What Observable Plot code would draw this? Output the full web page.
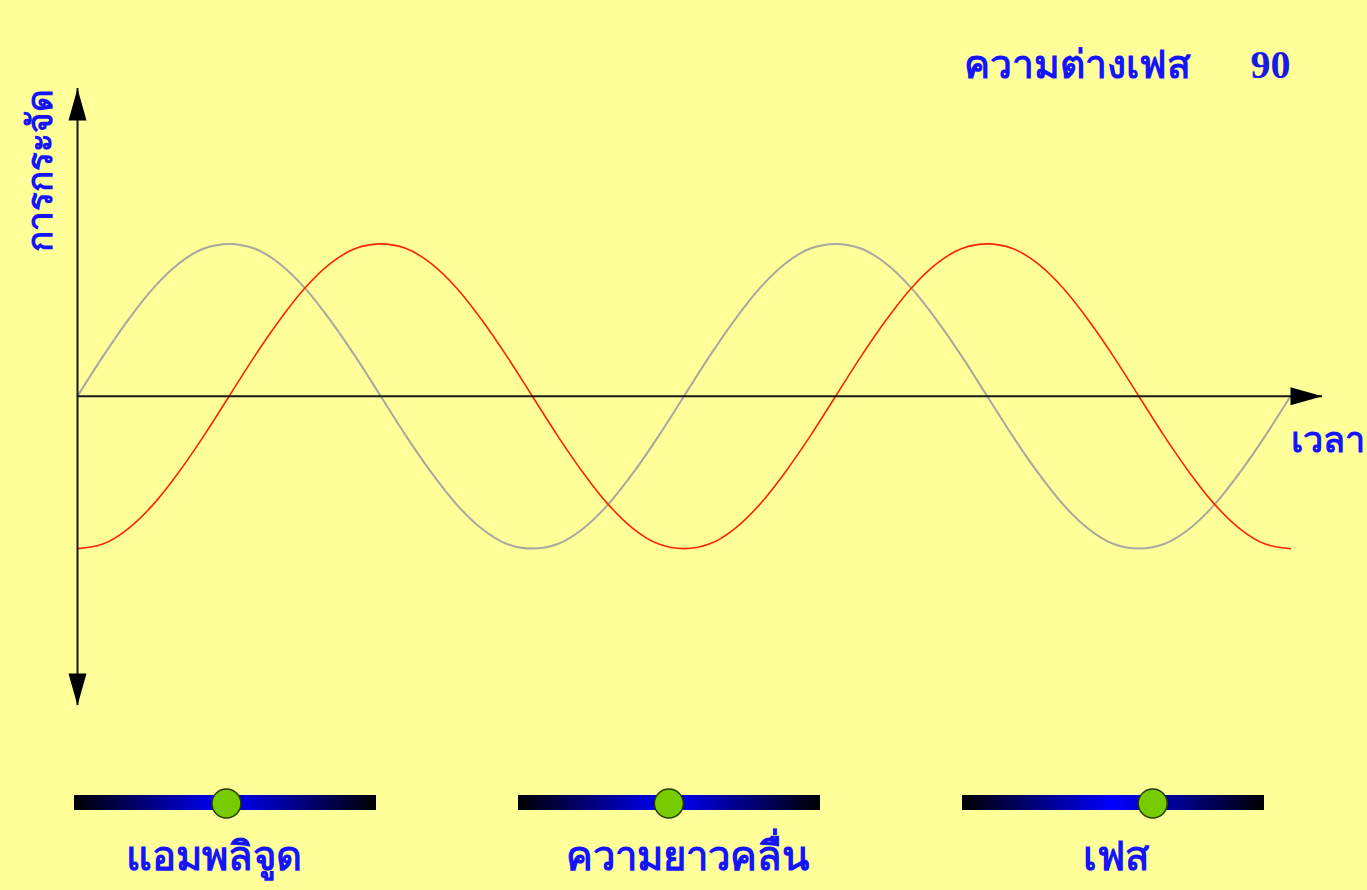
<!DOCTYPE html>
<html>
<head>
<meta charset="utf-8">
<script src="https://cdn.jsdelivr.net/npm/d3@7"></script>
<script src="https://cdn.jsdelivr.net/npm/@observablehq/plot@0.6"></script>
<style>
  html, body { margin: 0; padding: 0; background: #ffff99; }
  #chart svg, #sliders svg { display: block; }
</style>
</head>
<body>
<div id="chart"></div>
<div id="sliders"></div>
<script>
// ---- data ----
const timeDeg   = [0, 15, 30, 45, 60, 75, 90, 105, 120, 135, 150, 165, 180, 195, 210, 225, 240, 255, 270, 285, 300, 315, 330, 345,
                   360, 375, 390, 405, 420, 435, 450, 465, 480, 495, 510, 525, 540, 555, 570, 585, 600, 615, 630, 645, 660, 675, 690, 705, 720];
const grayWave  = [0, 0.26, 0.5, 0.71, 0.87, 0.97, 1, 0.97, 0.87, 0.71, 0.5, 0.26, 0, -0.26, -0.5, -0.71, -0.87, -0.97, -1, -0.97, -0.87, -0.71, -0.5, -0.26,
                   0, 0.26, 0.5, 0.71, 0.87, 0.97, 1, 0.97, 0.87, 0.71, 0.5, 0.26, 0, -0.26, -0.5, -0.71, -0.87, -0.97, -1, -0.97, -0.87, -0.71, -0.5, -0.26, 0];
const redWave   = [-1, -0.97, -0.87, -0.71, -0.5, -0.26, 0, 0.26, 0.5, 0.71, 0.87, 0.97, 1, 0.97, 0.87, 0.71, 0.5, 0.26, 0, -0.26, -0.5, -0.71, -0.87, -0.97,
                   -1, -0.97, -0.87, -0.71, -0.5, -0.26, 0, 0.26, 0.5, 0.71, 0.87, 0.97, 1, 0.97, 0.87, 0.71, 0.5, 0.26, 0, -0.26, -0.5, -0.71, -0.87, -0.97, -1];
const xDomain   = [0, 739];
const yDomain   = [-2.03, 2.02];
const phaseDiffLabel = ["ความต่างเฟส"];
const phaseDiff = [90];
const yLabel    = ["การกระจัด"];
const xLabel    = ["เวลา"];
const sliderNames  = ["แอมพลิจูด", "ความยาวคลื่น", "เฟส"];
const sliderValues = [0.503, 0.498, 0.63];

const blue = "#1414ff";
const thaiFont = "serif";

const grayData = timeDeg.map((t, i) => ({t, v: grayWave[i]}));
const redData  = timeDeg.map((t, i) => ({t, v: redWave[i]}));

const arrowHead = {
  draw(ctx) { ctx.moveTo(0, 0); ctx.lineTo(9, 32); ctx.lineTo(-9, 32); ctx.closePath(); }
};

const chart = Plot.plot({
  width: 1367,
  height: 760,
  marginTop: 88,
  marginBottom: 55,
  marginLeft: 77,
  marginRight: 45,
  style: {background: "#ffff99", fontFamily: thaiFont},
  x: {domain: xDomain, axis: null},
  y: {domain: yDomain, axis: null},
  marks: [
    Plot.line(grayData, {x: "t", y: "v", curve: "monotone-x", stroke: "#a8a8a0", strokeWidth: 2}),
    Plot.line(redData, {x: "t", y: "v", curve: "monotone-x", stroke: "#ff2200", strokeWidth: 1.6}),
    Plot.ruleY([0], {x1: xDomain[0], x2: xDomain[1], stroke: "#1a1a1a", strokeWidth: 2}),
    Plot.ruleX([0], {y1: yDomain[0], y2: yDomain[1], stroke: "#1a1a1a", strokeWidth: 2}),
    Plot.dot([{x: xDomain[1], y: 0, r: 90}, {x: 0, y: yDomain[1], r: 0}, {x: 0, y: yDomain[0], r: 180}],
      {x: "x", y: "y", rotate: "r", symbol: arrowHead, fill: "#000", stroke: "none"}),
    Plot.text(yLabel, {x: 0, y: yDomain[1], text: d => d, rotate: -90, textAnchor: "end", dx: -37,
      fill: blue, fontSize: 35, fontWeight: "bold"}),
    Plot.text(xLabel, {x: xDomain[1], y: 0, text: d => d, textAnchor: "start", dx: -32, dy: 44,
      fill: blue, fontSize: 36, fontWeight: "bold"}),
    Plot.text(phaseDiffLabel, {frameAnchor: "top-right", text: d => d, textAnchor: "end", dx: -132, dy: -38,
      fill: blue, fontSize: 39, fontWeight: "bold"}),
    Plot.text(phaseDiff, {frameAnchor: "top-right", text: d => String(d), textAnchor: "end", dx: -32, dy: -39,
      fill: "#1a1ae6", fontSize: 40, fontWeight: "bold", fontFamily: "Liberation Serif"})
  ]
});
document.getElementById("chart").append(chart);

const sliderData = sliderNames.map((name, i) => ({name, value: sliderValues[i]}));
const labelText = (name, dx) => Plot.text(sliderData.filter(d => d.name === name),
  {fx: "name", frameAnchor: "bottom", text: "name", dy: 52, dx, fill: blue, fontSize: 40, fontWeight: "bold"});
const sliders = Plot.plot({
  width: 1367,
  height: 130,
  marginTop: 29,
  marginBottom: 73,
  marginLeft: 73,
  marginRight: 102,
  style: {background: "#ffff99", fontFamily: thaiFont},
  fx: {domain: sliderNames, padding: 0.32, axis: null},
  x: {domain: [0, 1], axis: null},
  marks: [
    Plot.rect(sliderData, {fx: "name", x1: 0, x2: 1, insetTop: 6, insetBottom: 7, fill: "url(#sliderGrad)"}),
    Plot.dot(sliderData, {fx: "name", x: "value", r: 14.5, fill: "#77cc00", stroke: "#2a3a00", strokeWidth: 1.5}),
    labelText(sliderNames[0], -12),
    labelText(sliderNames[1], 18),
    labelText(sliderNames[2], 2)
  ]
});
const defs = d3.select(sliders).insert("defs", ":first-child");
const grad = defs.append("linearGradient").attr("id", "sliderGrad").attr("x1", "0").attr("x2", "1").attr("y1", "0").attr("y2", "0");
grad.append("stop").attr("offset", "0").attr("stop-color", "#000000");
grad.append("stop").attr("offset", "0.5").attr("stop-color", "#0000ff");
grad.append("stop").attr("offset", "1").attr("stop-color", "#000000");
document.getElementById("sliders").append(sliders);
</script>
</body>
</html>
